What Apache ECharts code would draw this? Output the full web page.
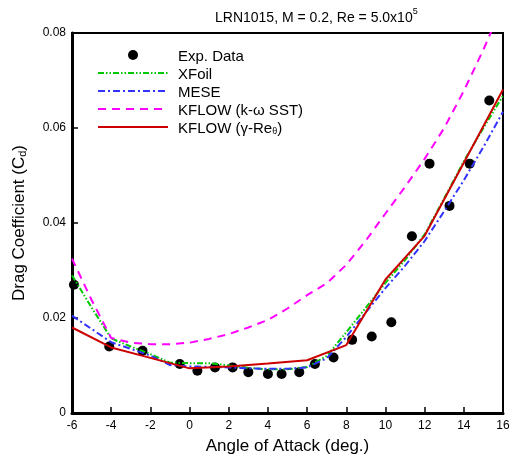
<!DOCTYPE html>
<html>
<head>
<meta charset="utf-8">
<script src="https://cdn.jsdelivr.net/npm/echarts@6/dist/echarts.min.js"></script>
<style>
html,body{margin:0;padding:0;background:#fff;}
#main{width:515px;height:463px;}
</style>
</head>
<body>
<div id="main"></div>
<script>
var expAlpha = [-5.9, -4.1, -2.4, -0.5, 0.4, 1.3, 2.2, 3.0, 4.0, 4.7, 5.6, 6.4, 7.35, 8.3, 9.3, 10.3, 11.35, 12.25, 13.27, 14.3, 15.3]
var expCd = [0.0270, 0.0140, 0.0131, 0.0103, 0.0089, 0.0096, 0.0096, 0.0086, 0.0082, 0.0082, 0.0086, 0.0103, 0.0117, 0.0154, 0.0161, 0.0191, 0.0372, 0.0525, 0.0436, 0.0525, 0.0658]

var alpha = [-6, -5, -4, -3, -2, -1, 0, 1, 2, 3, 4, 5, 6, 7, 8, 9, 10, 11, 12, 13, 14, 15, 16]
var xfoilCd = [0.0290, 0.0222, 0.0157, 0.0140, 0.0124, 0.0106, 0.0105, 0.0105, 0.0100, 0.0095, 0.0092, 0.0092, 0.0097, 0.0120, 0.0170, 0.0222, 0.0274, 0.0322, 0.0376, 0.0452, 0.0530, 0.0600, 0.0668]
var meseCd = [0.0205, 0.0177, 0.0149, 0.0135, 0.0121, 0.0101, 0.0098, 0.0097, 0.0096, 0.0094, 0.0093, 0.0093, 0.0096, 0.0115, 0.0160, 0.0212, 0.0263, 0.0310, 0.0362, 0.0425, 0.0490, 0.0560, 0.0634]
var sstCd = [0.0325, 0.0238, 0.0158, 0.0148, 0.0145, 0.0145, 0.0148, 0.0156, 0.0166, 0.0180, 0.0196, 0.0220, 0.0248, 0.0273, 0.0312, 0.0363, 0.0420, 0.0476, 0.0535, 0.0600, 0.0678, 0.0765, 0.0860]

var gammaAlpha = [-6, -4, -2, 0, 2, 4, 6, 8, 10, 12, 14, 16]
var gammaCd = [0.0180, 0.0138, 0.0116, 0.0094, 0.0098, 0.0104, 0.0111, 0.0143, 0.0281, 0.0373, 0.0527, 0.0681]

var xTicks = ['-6', '-4', '-2', '0', '2', '4', '6', '8', '10', '12', '14', '16']
var yTicks = ['0', '0.02', '0.04', '0.06', '0.08']

function pairs(xs, ys){
  return xs.map(function(x, i){ return [x, ys[i]] })
}

var font = 'Liberation Sans, Arial, sans-serif'
var legendNames = {
  'Exp. Data': '{a|Exp. Data}',
  'XFoil': '{a|XFoil}',
  'MESE': '{a|MESE}',
  'KFLOW (k-ω SST)': '{a|KFLOW (k-ω SST)}',
  'KFLOW (γ-Reθ)': '{a|KFLOW (γ-Re}{s|θ}{a|)}'
}
var noSymbol = {opacity: 0}

var chart = echarts.init(document.getElementById('main'))
chart.setOption({
  backgroundColor: '#fff',
  animation: false,
  title: {
    text: '{a|LRN1015, M = 0.2, Re = 5.0x10}{p|5}',
    left: 215,
    top: 7,
    padding: 0,
    textStyle: {
      fontWeight: 'normal',
      rich: {
        a: {fontFamily: font, fontSize: 14, fontWeight: 'normal', color: '#000', lineHeight: 18, verticalAlign: 'bottom'},
        p: {fontFamily: font, fontSize: 9, fontWeight: 'normal', color: '#000', lineHeight: 18, verticalAlign: 'top'}
      }
    }
  },
  legend: {
    orient: 'vertical',
    left: 97,
    top: 49,
    padding: 0,
    itemWidth: 70,
    itemHeight: 10,
    itemGap: 3,
    data: [
      {name: 'Exp. Data'},
      {name: 'XFoil', itemStyle: noSymbol},
      {name: 'MESE', itemStyle: noSymbol},
      {name: 'KFLOW (k-ω SST)', itemStyle: noSymbol},
      {name: 'KFLOW (γ-Reθ)', itemStyle: noSymbol}
    ],
    formatter: function(name){ return legendNames[name] },
    textStyle: {
      padding: [0, 0, 0, 5],
      rich: {
        a: {fontFamily: font, fontSize: 15, color: '#000', lineHeight: 18, verticalAlign: 'bottom'},
        s: {fontFamily: font, fontSize: 9, color: '#000', lineHeight: 18, verticalAlign: 'bottom'}
      }
    }
  },
  grid: {
    left: 72, right: 12, top: 33, bottom: 50,
    show: true, borderColor: '#000', borderWidth: 2,
    outerBoundsMode: 'none'
  },
  xAxis: {
    type: 'value',
    min: -6, max: 16, interval: 2,
    name: 'Angle of Attack (deg.)',
    nameLocation: 'middle',
    nameGap: 25,
    nameTextStyle: {fontFamily: font, fontSize: 17, color: '#000'},
    axisLine: {show: true, onZero: false, lineStyle: {color: '#000', width: 3}},
    axisTick: {show: true, inside: true, length: 6, lineStyle: {color: '#000', width: 1.5}},
    axisLabel: {
      margin: 7, fontFamily: font, fontSize: 12, color: '#000',
      formatter: function(v){ return xTicks[Math.round((v + 6) / 2)] }
    },
    splitLine: {show: false}
  },
  yAxis: {
    type: 'value',
    min: 0, max: 0.08, interval: 0.02,
    name: '{a|Drag Coefficient (C}{s|d}{a|)}',
    nameLocation: 'middle',
    nameGap: 44,
    nameRotate: 90,
    nameTextStyle: {
      rich: {
        a: {fontFamily: font, fontSize: 17, color: '#000', lineHeight: 20, verticalAlign: 'bottom'},
        s: {fontFamily: font, fontSize: 11, color: '#000', lineHeight: 20, verticalAlign: 'bottom'}
      }
    },
    axisLine: {show: true, onZero: false, lineStyle: {color: '#000', width: 3}},
    axisTick: {show: true, inside: true, length: 6, lineStyle: {color: '#000', width: 1.5}},
    axisLabel: {
      margin: 6, fontFamily: font, fontSize: 12, color: '#000',
      formatter: function(v){ return yTicks[Math.round(v / 0.02)] }
    },
    splitLine: {show: false}
  },
  series: [
    {
      name: 'Exp. Data',
      type: 'scatter',
      symbol: 'circle',
      symbolSize: 10,
      itemStyle: {color: '#000', opacity: 1},
      data: pairs(expAlpha, expCd),
      z: 3
    },
    {
      name: 'XFoil',
      type: 'line',
      symbol: 'none',
      lineStyle: {color: '#00c800', width: 2, type: [6, 2, 1.5, 2, 1.5, 2]},
      itemStyle: {color: '#00c800'},
      data: pairs(alpha, xfoilCd),
      z: 4
    },
    {
      name: 'MESE',
      type: 'line',
      symbol: 'none',
      lineStyle: {color: '#3333ff', width: 2, type: [7, 3, 2, 3]},
      itemStyle: {color: '#3333ff'},
      data: pairs(alpha, meseCd),
      z: 4
    },
    {
      name: 'KFLOW (k-ω SST)',
      type: 'line',
      symbol: 'none',
      lineStyle: {color: '#ff00ff', width: 2, type: [8, 6]},
      itemStyle: {color: '#ff00ff'},
      data: pairs(alpha, sstCd),
      z: 4
    },
    {
      name: 'KFLOW (γ-Reθ)',
      type: 'line',
      symbol: 'none',
      lineStyle: {color: '#cc0000', width: 2},
      itemStyle: {color: '#cc0000'},
      data: pairs(gammaAlpha, gammaCd),
      z: 5
    }
  ]
})
</script>
</body>
</html>
